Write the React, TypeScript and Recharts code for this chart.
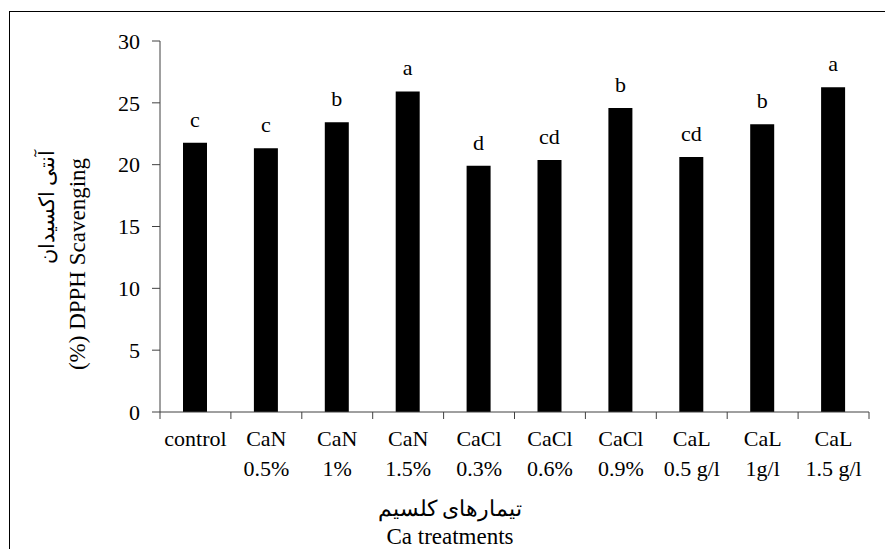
import { Bar, BarChart, LabelList, XAxis, YAxis } from 'recharts'

const groups = ['control', 'CaN', 'CaN', 'CaN', 'CaCl', 'CaCl', 'CaCl', 'CaL', 'CaL', 'CaL']
const doses = ['', '0.5%', '1%', '1.5%', '0.3%', '0.6%', '0.9%', '0.5 g/l', '1g/l', '1.5 g/l']
const scavenging = [21.78, 21.32, 23.43, 25.92, 19.92, 20.37, 24.58, 20.62, 23.27, 26.27]
const letters = ['c', 'c', 'b', 'a', 'd', 'cd', 'b', 'cd', 'b', 'a']
const yTicks = [0, 5, 10, 15, 20, 25, 30]

const yTitleFa = 'آنتی اکسیدان'
const yTitleEn = '(%) DPPH Scavenging'
const xTitleFa = 'تیمارهای کلسیم'
const xTitleEn = 'Ca treatments'

const FONT = "'Liberation Serif', 'Times New Roman', 'DejaVu Serif', serif"
const AXIS_COLOR = '#404040'

const data = groups.map((g, i) => ({
  key: String(i),
  value: scavenging[i],
  letter: letters[i],
}))

// category label plus Excel-style tick marks on the category boundaries
function CategoryTick({ x, y, width, payload }: any) {
  const i = Number(payload.value)
  const half = payload.offset ?? width / groups.length / 2
  return (
    <g>
      <line x1={x - half} x2={x - half} y1={y} y2={y + 7} stroke={AXIS_COLOR} />
      {i === groups.length - 1 && <line x1={x + half} x2={x + half} y1={y} y2={y + 7} stroke={AXIS_COLOR} />}
      <g style={{ fontFamily: FONT }} fontSize={22} fill="#000">
        <text x={x} y={y + 34} textAnchor="middle">{groups[i]}</text>
        {doses[i] && <text x={x} y={y + 64} textAnchor="middle">{doses[i]}</text>}
      </g>
    </g>
  )
}

function ValueTick({ x, y, payload }: any) {
  return (
    <text x={x} y={y} dy="0.35em" textAnchor="end" fontSize={22} fill="#000" style={{ fontFamily: FONT }}>
      {payload.value}
    </text>
  )
}

function XTitle({ viewBox }: any) {
  const cx = viewBox.x + 290
  return (
    <g style={{ fontFamily: FONT }} fill="#000">
      <text x={cx} y={viewBox.y + 104} textAnchor="middle" fontSize={22}>{xTitleFa}</text>
      <text x={cx} y={viewBox.y + 132} textAnchor="middle" fontSize={23}>{xTitleEn}</text>
    </g>
  )
}

function YTitle() {
  return (
    <g style={{ fontFamily: FONT }} fill="#000">
      <text x={47} y={207} transform="rotate(-90 47 207)" textAnchor="middle" dominantBaseline="central" fontSize={21}>
        {yTitleFa}
      </text>
      <text x={77} y={264} transform="rotate(-90 77 264)" textAnchor="middle" dominantBaseline="central" fontSize={23}>
        {yTitleEn}
      </text>
    </g>
  )
}

export default function App() {
  return (
    <div
      style={{
        position: 'absolute', left: 0, top: 0, width: 885, height: 549,
        overflow: 'hidden', background: '#fff', fontFamily: FONT,
      }}
    >
      <div style={{ position: 'absolute', left: 9, top: 11, width: 900, height: 600, border: '1px solid #000' }} />
      <div style={{ position: 'absolute', left: 0, top: 0 }}>
        <BarChart width={885} height={549} data={data} margin={{ top: 41, right: 16, bottom: 0, left: 0 }}>
          <YAxis
            domain={[0, 30]}
            ticks={yTicks}
            width={160}
            tickSize={8}
            tickMargin={12}
            axisLine={{ stroke: AXIS_COLOR }}
            tickLine={{ stroke: AXIS_COLOR }}
            tick={<ValueTick />}
            label={{ content: <YTitle /> }}
          />
          <XAxis
            dataKey="key"
            height={137}
            interval={0}
            tickSize={0}
            tickMargin={0}
            tickLine={false}
            axisLine={{ stroke: AXIS_COLOR }}
            tick={<CategoryTick />}
            label={{ content: <XTitle /> }}
          />
          <Bar dataKey="value" fill="#000" barSize={24} isAnimationActive={false}>
            <LabelList dataKey="letter" position="top" offset={16} fill="#000" fontSize={22} style={{ fontFamily: FONT }} />
          </Bar>
        </BarChart>
      </div>
    </div>
  )
}
